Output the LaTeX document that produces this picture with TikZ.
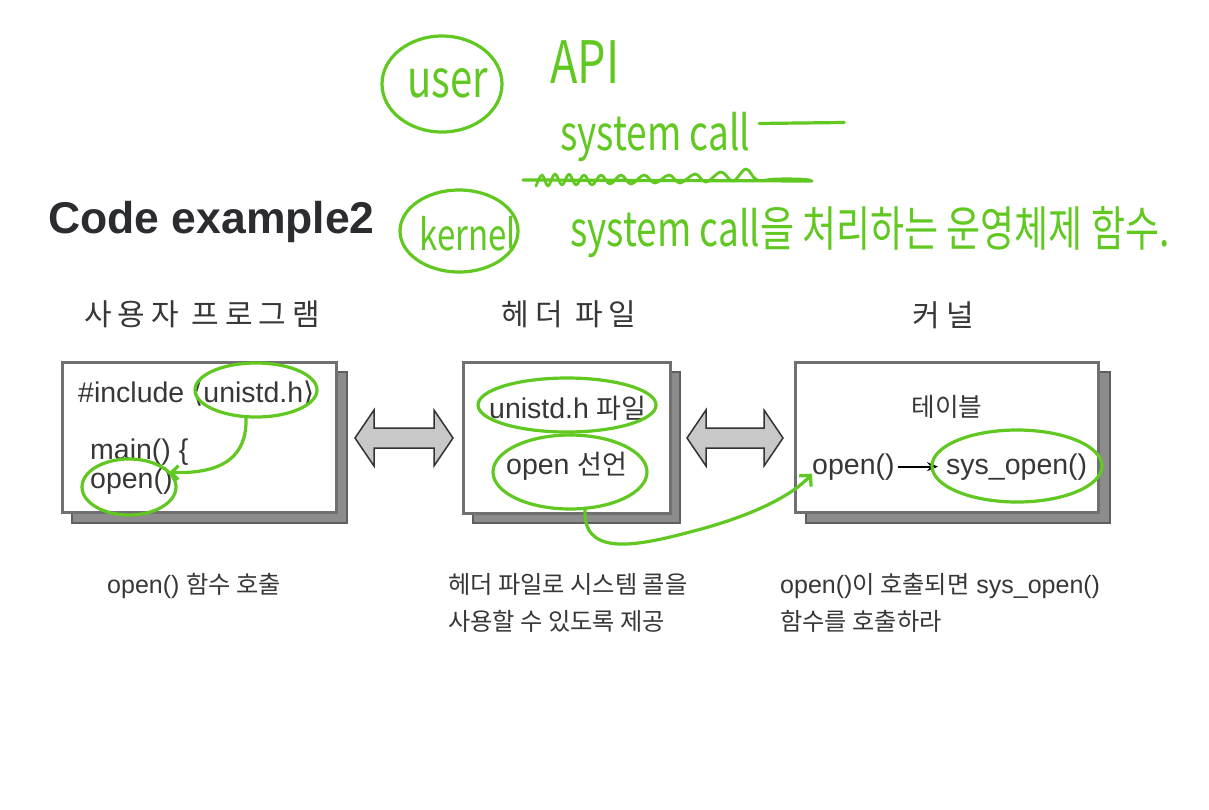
\documentclass[tikz,border=0pt]{standalone}
\usepackage{fontspec}
\setmainfont{Liberation Sans}
\newfontfamily\krbox[Scale=0.95]{Noto Sans CJK KR}
\newfontfamily\krcap[Scale=0.97]{Noto Sans CJK KR}
\newfontfamily\krtitle[LetterSpace=20]{Noto Sans CJK KR}
\newfontfamily\handfont{Noto Sans CJK KR}
\newfontfamily\symfont{DejaVu Sans}
\usetikzlibrary{arrows.meta,calc,shapes.geometric}
\definecolor{hg}{RGB}{96,200,32}
\definecolor{txtc}{RGB}{55,55,55}
\definecolor{codec}{RGB}{43,44,48}
\definecolor{boxline}{RGB}{112,112,112}
\definecolor{shadowfill}{RGB}{140,140,140}
\definecolor{shadowline}{RGB}{95,95,95}
\definecolor{arrowfill}{RGB}{200,200,200}
\begin{document}
\begin{tikzpicture}[x=1pt,y=-1pt,
  frontbox/.style={draw=boxline, line width=3pt, fill=white, outer sep=0pt, inner sep=0pt},
  shadowbox/.style={draw=shadowline, line width=1.5pt, fill=shadowfill, outer sep=0pt, inner sep=0pt},
  darrow/.style={draw=black!80, fill=arrowfill, line width=1.5pt, line join=miter},
  txt/.style={inner sep=0pt, text=txtc, font=\fontsize{28.5}{33}\selectfont},
  captxt/.style={inner sep=0pt, text=txtc, font=\fontsize{25}{30}\selectfont},
  ttl/.style={inner sep=0pt, text=txtc, font=\krtitle\fontsize{30}{36}\selectfont},
  hand/.style={draw=hg, line width=3.2pt, line cap=round, line join=round},
  hell/.style={ellipse, draw=hg, line width=3.2pt, inner sep=0pt, outer sep=0pt},
  handtxt/.style={inner sep=0pt, text=hg},
]
\useasboundingbox (0,0) rectangle (1209,809);
\fill[white] (0,0) rectangle (1209,809);

% heading
\node[inner sep=0pt, anchor=base west, font=\bfseries\fontsize{44.5}{52}\selectfont, text=codec] (ce) at (48,233) {Code example2};

% titles
\node[ttl] (ti1) at (202,314) {사용자 프로그램};
\node[ttl] (ti2) at (569,314) {헤더 파일};
\node[ttl] (ti3) at (943,315) {커널};

% boxes
\node[shadowbox, minimum width=275, minimum height=151, anchor=north west] (b1s) at (72,372) {};
\node[frontbox, minimum width=274, minimum height=150, anchor=north west] (b1) at (62,362) {};
\node[shadowbox, minimum width=207, minimum height=151, anchor=north west] (b2s) at (473,372) {};
\node[frontbox, minimum width=207, minimum height=151, anchor=north west] (b2) at (463,362) {};
\node[shadowbox, minimum width=304, minimum height=151, anchor=north west] (b3s) at (806,372) {};
\node[frontbox, minimum width=303, minimum height=150, anchor=north west] (b3) at (795,362) {};

% double arrows
\coordinate (a1) at (404,438);
\coordinate (a2) at (735,438);
\draw[darrow, shift={(a1)}] (-49,0) -- (-30,-28) -- (-30,-10) -- (30,-10) -- (30,-28) -- (49,0) -- (30,28) -- (30,10) -- (-30,10) -- (-30,28) -- cycle;
\draw[darrow, shift={(a2)}] (-48,0) -- (-29,-28) -- (-29,-10) -- (29,-10) -- (29,-28) -- (48,0) -- (29,28) -- (29,10) -- (-29,10) -- (-29,28) -- cycle;

% box 1 text
\node[txt, anchor=base west] (inc) at (78,402) {\#include {\symfont ⟨}unistd.h{\symfont ⟩}};
\node[txt, anchor=base west] (mn) at (90,459) {main() \{};
\node[txt, anchor=base west] (op1) at (90,488) {open()};
% box 2 text
\node[txt, anchor=base west] (uni) at (489,418) {unistd.h {\krbox 파일}};
\node[txt, anchor=base west] (od) at (506,474) {open {\krbox 선언}};
% box 3 text
\node[txt, font=\krbox\fontsize{27}{32}\selectfont, anchor=base] (tab) at (947,416) {테이블};
\node[txt, anchor=base west] (op3) at (812,474) {open()};
\node[txt, anchor=base west] (sys) at (946,474) {sys\_open()};
\draw[black, line width=1.8pt, -{Stealth[length=11pt,width=9pt]}] ([xshift=3pt]op3.east) -- ([xshift=-8pt]sys.west);

% captions
\node[captxt, anchor=base west] (c1) at (107,593) {open()\ {\krcap 함수 호출}};
\node[captxt, anchor=base west] (c2a) at (448,593) {\krcap 헤더 파일로 시스템 콜을};
\node[captxt, anchor=base west] (c2b) at (448,630) {\krcap 사용할 수 있도록 제공};
\node[captxt, anchor=base west] (c3a) at (780,593) {open(){\krcap 이 호출되면} sys\_open()};
\node[captxt, anchor=base west] (c3b) at (780,630) {\krcap 함수를 호출하라};

% handwritten annotations (top)
\node[hell, minimum width=120, minimum height=96] (eu) at (442,84) {};
\node[handtxt, anchor=base, font=\handfont\fontsize{40}{48}\selectfont] (user) at (448,97) {\scalebox{1}[1.3]{user}};
\node[handtxt, anchor=base west, font=\handfont\fontsize{45}{52}\selectfont] (api) at (550,83) {\scalebox{1}[1.3]{API}};
\node[handtxt, anchor=base west, font=\handfont\fontsize{37}{44}\selectfont] (sc) at (560,150) {\scalebox{1}[1.3]{system call}};
\draw[hand] ([xshift=9pt,yshift=13pt]sc.east) -- +(85,-1);
% scribble
\draw[hand] (523,180) -- (812,181);
\draw[hand, line width=2.8pt] plot[smooth, tension=0.6] coordinates {(536,186) (542,175) (548,186) (555,174) (562,185) (569,174) (576,185) (584,175) (592,185) (601,175) (610,184) (621,175) (631,184) (644,175) (655,183) (669,175) (680,183) (695,174) (706,182) (721,172) (733,181) (746,169) (757,180) (775,179) (798,179) (810,180)};
\node[hell, minimum width=118, minimum height=82] (ek) at (459,231) {};
\node[handtxt, anchor=base, font=\handfont\fontsize{33}{40}\selectfont] (kern) at (468,250) {\scalebox{1}[1.3]{kernel}};
\node[handtxt, anchor=base west, font=\handfont\fontsize{37}{44}\selectfont] (kdesc) at (570,246) {\scalebox{1}[1.3]{system call을 처리하는 운영체제 함수.}};

% handwritten annotations (boxes)
\node[hell, minimum width=122, minimum height=54] (e1) at (256,390) {};
\node[hell, minimum width=94, minimum height=56] (e2) at (129,487) {};
\node[hell, minimum width=178, minimum height=54] (e3) at (567,405) {};
\node[hell, minimum width=154, minimum height=74] (e4) at (570,472) {};
\node[hell, minimum width=170, minimum height=72] (e5) at (1017,466) {};
\coordinate (tipB) at ($(op3.west)+(0,7)$);
\draw[hand, -{Straight Barb[length=7pt,width=14pt]}] ($(e1.south)+(-10,1)$) .. controls (247,455) and (225,474) .. (e2.20);
\draw[hand, -{Straight Barb[length=8pt,width=16pt]}] ($(e4.south)+(15,-1)$) .. controls (582,555) and (630,548) .. (690,532) .. controls (745,518) and (790,498) .. (tipB);
\end{tikzpicture}
\end{document}
